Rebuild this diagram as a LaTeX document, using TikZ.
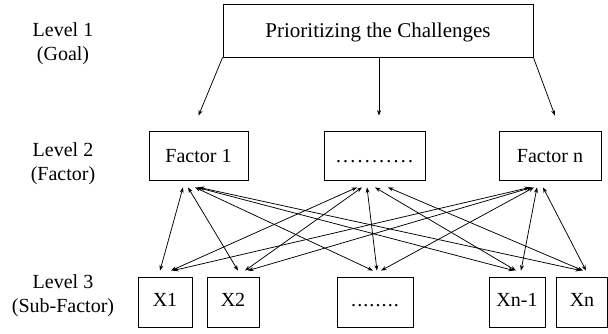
\documentclass[tikz,border=0pt]{standalone}
\usepackage{fontspec}
\setmainfont{Liberation Serif}
\usetikzlibrary{arrows.meta}
% a row of evenly spaced dots: #1 dots, #2 extra gap between them
\newcommand\spdots[2]{\foreach \k in {1,...,#1}{\ifnum\k>1\kern#2\fi.}}
\begin{document}
\begin{tikzpicture}[x=1pt,y=-1pt,
  box/.style={draw, line width=0.8pt, inner sep=0pt, text height=13.2pt,
    text depth=0pt, font=\fontsize{20}{24}\selectfont},
  subbox/.style={box, text depth=5pt},
  lvl/.style={align=center, font=\fontsize{20}{24}\selectfont},
  tip/.style={-{Stealth[length=5.5pt,width=4pt]}, line width=0.75pt},
  link/.style={{Stealth[length=5.5pt,width=4pt]}-{Stealth[length=5.5pt,width=4pt]},
    line width=0.75pt}]
\useasboundingbox (0,0) rectangle (608,334);

% level captions
\node[lvl] (l1) at (63,44) {Level 1\\(Goal)};
\node[lvl] (l2) at (63,164) {Level 2\\(Factor)};
\node[lvl] (l3) at (63,296) {Level 3\\(Sub-Factor)};

% goal
\node[box, minimum width=310pt, minimum height=53pt, text height=13.9pt,
  font=\fontsize{21}{25}\selectfont] (goal) at (378,30.5)
  {Prioritizing the Challenges};

% factors
\node[box, minimum width=99pt, minimum height=49pt] (f1) at (198.5,155.5) {Factor 1};
\node[box, minimum width=101pt, minimum height=49pt] (fm) at (374.5,155.5) {\spdots{11}{2.2pt}};
\node[box, minimum width=102pt, minimum height=49pt] (fn) at (550,155.5) {Factor n};

% sub-factors
\node[subbox, minimum width=54pt, minimum height=50pt] (s1) at (165,302) {X1};
\node[subbox, minimum width=52pt, minimum height=50pt] (s2) at (233,302) {X2};
\node[subbox, minimum width=76pt, minimum height=50pt] (sm) at (375,302) {\spdots{8}{1.1pt}};
\node[subbox, minimum width=56pt, minimum height=50pt] (sn1) at (517,302) {Xn-1};
\node[subbox, minimum width=51pt, minimum height=50pt] (sn) at (582,302) {Xn};

% goal to factors
\draw[tip] (goal.south west) -- ([yshift=15pt]f1.north);
\draw[tip] ([xshift=1pt]goal.south) -- ([xshift=4.5pt,yshift=15pt]fm.north);
\draw[tip] (goal.south east) -- ([xshift=5pt,yshift=15pt]fn.north);

% factors to sub-factors, both ways
\foreach \f/\a/\s/\b in {
    f1/-15.5/s1/-5, f1/-10.5/s2/5, f1/-3.5/sm/-2, f1/-1.5/sn1/-3, f1/0.5/sn/-1,
    fm/-17.5/s1/6, fm/-12.5/s2/12, fm/-7.5/sm/2, fm/0.5/sn1/-1, fm/13.5/sn/1,
    fn/-20/s1/8, fn/-18/s2/15, fn/-16/sm/6, fn/-13/sn1/4, fn/-7/sn/4}
  \draw[link] ([xshift=\a pt,yshift=-7pt]\f.south) -- ([xshift=\b pt,yshift=6pt]\s.north);
\end{tikzpicture}
\end{document}
